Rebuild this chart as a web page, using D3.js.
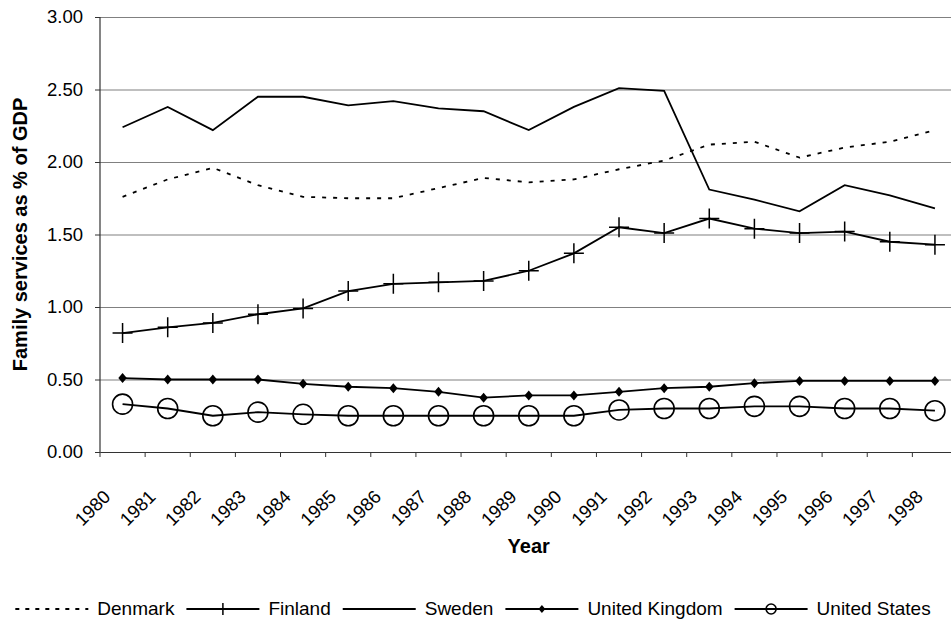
<!DOCTYPE html>
<html>
<head>
<meta charset="utf-8">
<script src="https://cdn.jsdelivr.net/npm/d3@7/dist/d3.min.js"></script>
<style>
  body { margin: 0; background: #fff; }
  text { font-family: "Liberation Sans", Arial, sans-serif; fill: #000; }
</style>
</head>
<body>
<div id="chart"></div>
<script>
// data
var years = ["1980","1981","1982","1983","1984","1985","1986","1987","1988","1989",
             "1990","1991","1992","1993","1994","1995","1996","1997","1998"];
var denmark = [1.76,1.88,1.96,1.84,1.76,1.75,1.75,1.82,1.89,1.86,1.88,1.95,2.01,2.12,2.14,2.03,2.10,2.14,2.22];
var finland = [0.82,0.86,0.89,0.95,0.99,1.11,1.16,1.17,1.18,1.25,1.37,1.55,1.51,1.61,1.54,1.51,1.52,1.45,1.43];
var sweden = [2.24,2.38,2.22,2.45,2.45,2.39,2.42,2.37,2.35,2.22,2.38,2.51,2.49,1.81,1.74,1.66,1.84,1.77,1.68];
var unitedKingdom = [0.51,0.50,0.50,0.50,0.47,0.45,0.44,0.415,0.375,0.39,0.39,0.415,0.44,0.45,0.475,0.49,0.49,0.49,0.49];
var unitedStates = [0.33,0.30,0.25,0.275,0.26,0.25,0.25,0.25,0.25,0.25,0.25,0.29,0.30,0.30,0.315,0.315,0.30,0.30,0.285];
var yTicks = [0, 0.5, 1, 1.5, 2, 2.5, 3];

var series = [
  {name: "Denmark", values: denmark, dash: "4,7", marker: "none"},
  {name: "Finland", values: finland, dash: null, marker: "plus"},
  {name: "Sweden", values: sweden, dash: null, marker: "none"},
  {name: "United Kingdom", values: unitedKingdom, dash: null, marker: "diamond"},
  {name: "United States", values: unitedStates, dash: null, marker: "circle"}
];

var svgWidth = 951;
var svgHeight = 622;
var margin = {top: 17, right: -6.5, bottom: 170, left: 100};
var width = svgWidth - margin.left - margin.right;
var height = svgHeight - margin.top - margin.bottom;

var svg = d3.select('#chart')
  .append('svg')
  .attr('width', svgWidth)
  .attr('height', svgHeight);
var chart = svg.append('g')
  .attr('transform', 'translate(' + margin.left + ',' + margin.top + ')');

var xScale = d3.scaleBand().domain(years).range([0, width]);
var yScale = d3.scaleLinear().domain([0, 3]).range([height, 0]);
var bw = xScale.bandwidth();

// gridlines
chart.append('g')
  .call(d3.axisLeft(yScale).tickValues(yTicks).tickSize(-width).tickFormat(''))
  .call(function(g) {
    g.select('.domain').remove();
    g.selectAll('line').attr('stroke', '#808080').attr('stroke-width', 1.2);
  });

// y axis
chart.append('g')
  .call(d3.axisLeft(yScale).tickValues(yTicks).tickSize(5).tickPadding(12)
    .tickFormat(d3.format('.2f')))
  .call(function(g) {
    g.select('.domain').attr('stroke', '#333').attr('stroke-width', 1.2).attr('d', 'M0,0V' + height);
    g.selectAll('line').attr('stroke', '#333');
    g.selectAll('text').style('font-size', '18.5px');
  });

// x axis, ticks between the categories
var xAxis = chart.append('g')
  .attr('transform', 'translate(0,' + height + ')')
  .call(d3.axisBottom(xScale).tickSize(5).tickSizeOuter(0));
xAxis.select('.domain').attr('stroke', '#333').attr('stroke-width', 1.2);
xAxis.selectAll('.tick line')
  .attr('stroke', '#333')
  .attr('x1', -bw / 2).attr('x2', -bw / 2);
xAxis.selectAll('.tick text')
  .style('font-size', '18.5px')
  .attr('text-anchor', 'end')
  .attr('dy', null)
  .attr('y', null)
  .attr('transform', 'translate(-11,46) rotate(-45)');

var line = d3.line()
  .x(function(d, i) { return xScale(years[i]) + bw / 2; })
  .y(function(d) { return yScale(d); });

series.forEach(function(s) {
  chart.append('path')
    .datum(s.values)
    .attr('fill', 'none')
    .attr('stroke', '#000')
    .attr('stroke-width', 1.8)
    .attr('stroke-dasharray', s.dash)
    .attr('d', line);
});

function drawMarker(g, type, x, y, size) {
  if (type == 'plus') {
    g.append('path')
      .attr('d', 'M' + (x - size) + ',' + y + 'H' + (x + size) + 'M' + x + ',' + (y - size) + 'V' + (y + size))
      .attr('stroke', '#000').attr('stroke-width', 1.5);
  } else if (type == 'diamond') {
    g.append('path')
      .attr('d', 'M' + x + ',' + (y - size) + 'L' + (x + size * 0.85) + ',' + y + 'L' + x + ',' + (y + size) + 'L' + (x - size * 0.85) + ',' + y + 'Z')
      .attr('fill', '#000');
  } else if (type == 'circle') {
    g.append('circle')
      .attr('cx', x).attr('cy', y).attr('r', size)
      .attr('fill', 'none').attr('stroke', '#000').attr('stroke-width', 1.6);
  }
}

var markerSize = {plus: 10, diamond: 5, circle: 10};
series.forEach(function(s) {
  if (s.marker == 'none') return;
  var g = chart.append('g');
  s.values.forEach(function(v, i) {
    drawMarker(g, s.marker, xScale(years[i]) + bw / 2, yScale(v), markerSize[s.marker]);
  });
});

// axis titles
svg.append('text')
  .attr('transform', 'translate(27,' + (margin.top + height / 2) + ') rotate(-90)')
  .attr('text-anchor', 'middle')
  .style('font-size', '20px')
  .style('font-weight', 'bold')
  .text('Family services as % of GDP');

svg.append('text')
  .attr('x', margin.left + width / 2)
  .attr('y', 553)
  .attr('text-anchor', 'middle')
  .style('font-size', '20px')
  .style('font-weight', 'bold')
  .text('Year');

// legend
var legend = svg.append('g');
var lx = 0;
var legendMarker = {plus: 6, diamond: 4, circle: 5};
series.forEach(function(s) {
  legend.append('line')
    .attr('x1', lx).attr('x2', lx + 73)
    .attr('y1', 609).attr('y2', 609)
    .attr('stroke', '#000').attr('stroke-width', 1.8)
    .attr('stroke-dasharray', s.dash ? '4,6' : null);
  if (s.marker != 'none') drawMarker(legend, s.marker, lx + 36.5, 609, legendMarker[s.marker]);
  var t = legend.append('text')
    .attr('x', lx + 82).attr('y', 615)
    .style('font-size', '19px')
    .text(s.name);
  lx = lx + 82 + t.node().getComputedTextLength() + 12;
});
legend.attr('transform', 'translate(' + (473 - (lx - 12) / 2) + ',0)');
</script>
</body>
</html>
